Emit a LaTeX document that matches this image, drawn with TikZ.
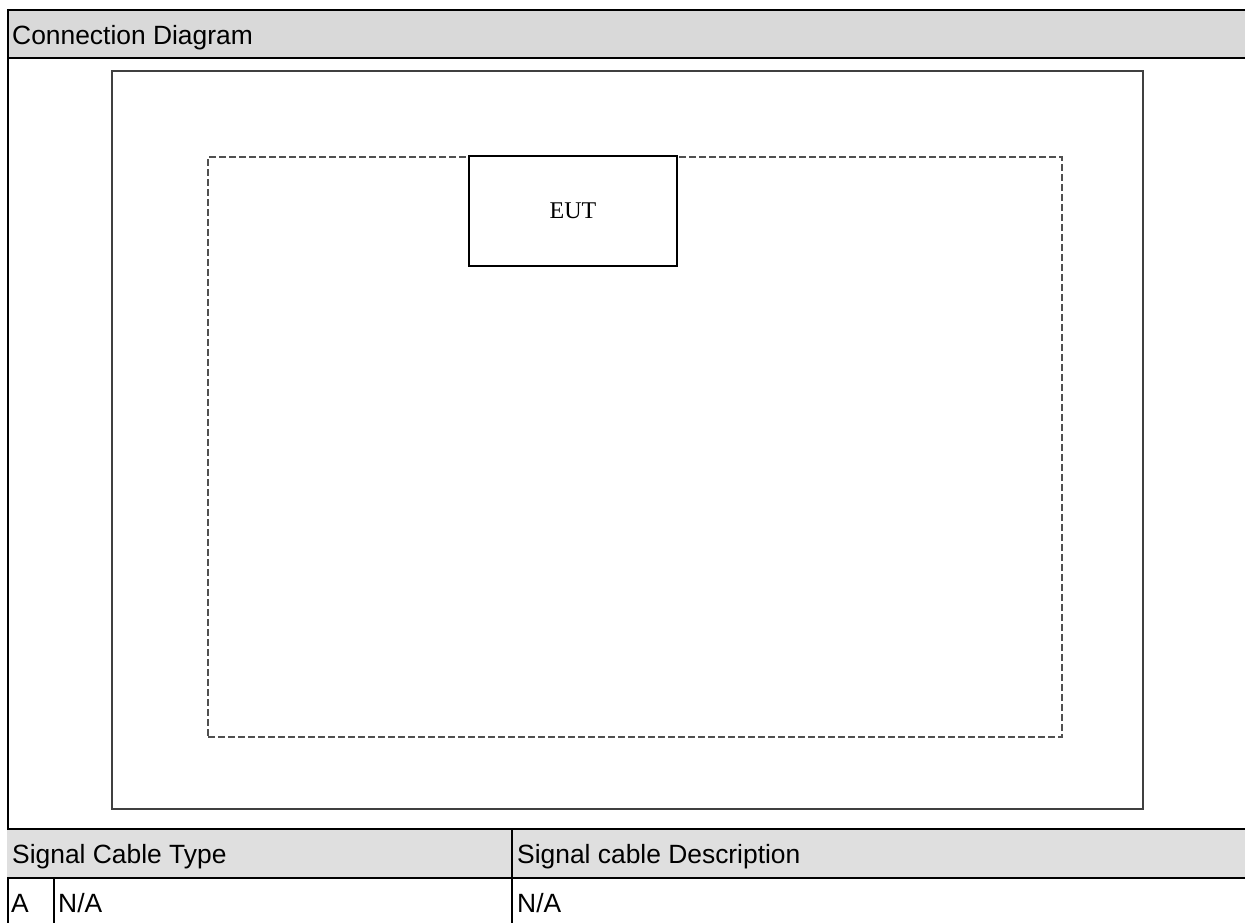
\documentclass[tikz,border=0pt]{standalone}
\usepackage{fontspec}
\setmainfont{Liberation Sans}
\newfontfamily\serifeut{Liberation Serif}
\definecolor{hdrgray}{HTML}{D9D9D9}
\definecolor{rowgray}{HTML}{DFDFDF}
\definecolor{boxgray}{HTML}{404040}
\definecolor{dashgray}{HTML}{505050}
\begin{document}
\begin{tikzpicture}[x=1pt,y=-1pt,
  rule/.style={line width=2.6pt,black},
  vrule/.style={line width=2pt,black},
  celltext/.style={anchor=base west,inner sep=0pt,font=\fontsize{26.4pt}{30pt}\selectfont},
  framebox/.style={draw=boxgray,line width=2pt,inner sep=0pt},
  dashbox/.style={draw=dashgray,line width=2pt,dash pattern=on 7pt off 3pt,inner sep=0pt},
  eutbox/.style={draw=black,line width=1.6pt,fill=white,inner sep=0pt,font=\serifeut\fontsize{24pt}{28pt}\selectfont}]
\useasboundingbox (0,0) rectangle (1245,923);
% header bar
\fill[hdrgray] (7,10) rectangle (1245,58);
\draw[rule] (7,10) -- (1245,10);
\draw[rule] (7,58) -- (1245,58);
\node[celltext] (title) at (12,45) {Connection Diagram};
% left border
\draw[vrule] (7.5,9) -- (7.5,923);
% diagram frames
\node[framebox,minimum width=1031pt,minimum height=738pt] (frame) at (627.5,440) {};
\node[dashbox,minimum width=854pt,minimum height=580pt] (room) at (635,447) {};
\node[eutbox,minimum width=208pt,minimum height=110pt] (eut) at (573,211) {EUT};
% table
\fill[rowgray] (7,829) rectangle (1245,878);
\draw[rule] (7,829) -- (1245,829);
\draw[rule] (7,878) -- (1245,878);
\draw[vrule] (512,829) -- (512,923);
\draw[vrule] (54,878) -- (54,923);
\node[celltext] (typehdr) at (12,863) {Signal Cable Type};
\node[celltext] (deschdr) at (517,863) {Signal cable Description};
\node[celltext] (rowid) at (11,912) {A};
\node[celltext] (rowtype) at (58,912) {N/A};
\node[celltext] (rowdesc) at (517,912) {N/A};
\end{tikzpicture}
\end{document}
